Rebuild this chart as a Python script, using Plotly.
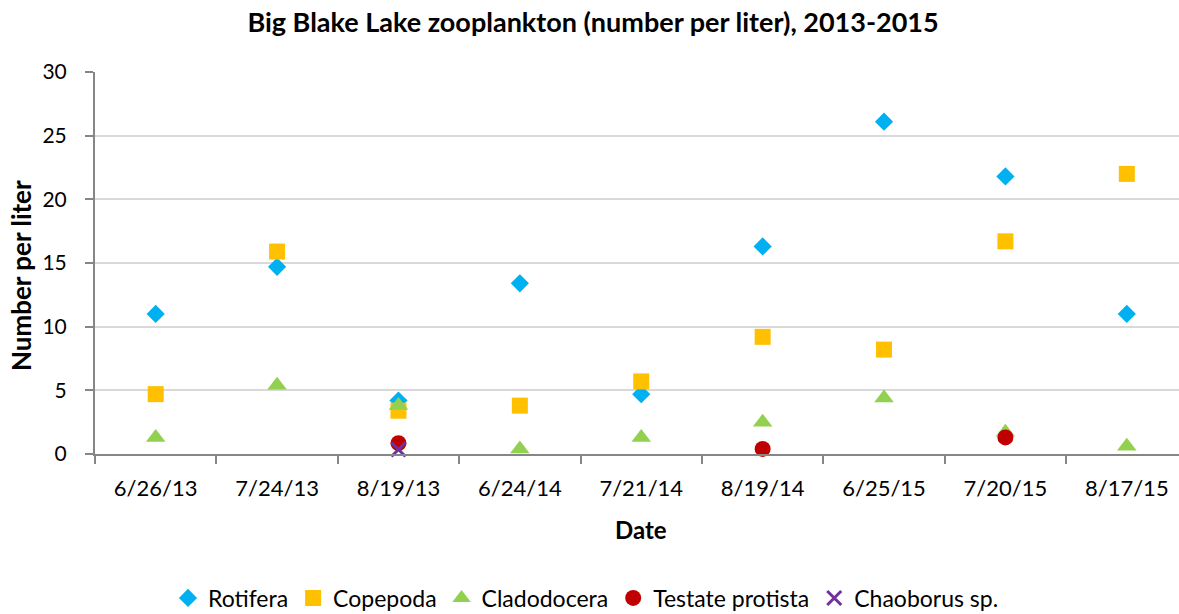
import plotly.graph_objects as go

# Sampling dates (categories on the x axis)
dates = ["6/26/13", "7/24/13", "8/19/13", "6/24/14", "7/21/14",
         "8/19/14", "6/25/15", "7/20/15", "8/17/15"]

# Zooplankton densities, number per liter (None = not recorded)
rotifera = [11.0, 14.7, 4.2, 13.4, 4.7, 16.3, 26.1, 21.8, 11.0]
copepoda = [4.7, 15.9, 3.4, 3.8, 5.7, 9.2, 8.2, 16.7, 22.0]
cladodocera = [1.3, 5.4, 3.8, 0.4, 1.3, 2.5, 4.4, 1.7, 0.6]
testate_protista = [None, None, 0.85, None, None, 0.4, None, 1.3, None]
chaoborus = [None, None, 0.35, None, None, None, None, None, None]

y_ticks = [0, 5, 10, 15, 20, 25, 30]

FONT = "Lato, 'Open Sans', sans-serif"
W, H = 1179, 614
M_L, M_R, M_T, M_B = 95, 0, 72, 160
PLOT_W = W - M_L - M_R
PLOT_H = H - M_T - M_B

series = [
    ("Rotifera", rotifera, "diamond", 14, "#00B0F0"),
    ("Copepoda", copepoda, "square", 16, "#FFC000"),
    ("Cladodocera", cladodocera, "triangle-up", 17, "#92D050"),
    ("Testate protista", testate_protista, "circle", 16, "#C00000"),
    ("Chaoborus sp.", chaoborus, "x-thin", 14, "#7030A0"),
]

fig = go.Figure()
for name, vals, sym, size, color in series:
    marker = dict(symbol=sym, size=size, color=color)
    if sym == "x-thin":
        marker["line"] = dict(color=color, width=3)
    fig.add_trace(go.Scatter(
        x=dates, y=vals, mode="markers", name=name,
        marker=marker, cliponaxis=False,
    ))


def px_x(px):
    return (px - M_L) / PLOT_W


def px_y(py):
    return (H - M_B - py) / PLOT_H


fig.update_layout(
    width=W, height=H,
    paper_bgcolor="white", plot_bgcolor="white",
    margin=dict(l=M_L, r=M_R, t=M_T, b=M_B, autoexpand=False),
    font=dict(family=FONT, size=22, color="black"),
    title=dict(
        text="<b>Big Blake Lake zooplankton (number per liter), 2013-2015</b>",
        x=593 / W, xref="container", xanchor="center",
        y=1 - 23 / H, yref="container", yanchor="middle",
        font=dict(family=FONT, size=27, color="black"),
    ),
    showlegend=True,
    legend=dict(
        orientation="h", x=px_x(586), xanchor="center",
        y=px_y(598), yanchor="middle",
        font=dict(family=FONT, size=23, color="black"),
        itemsizing="trace", itemwidth=30,
    ),
    annotations=[
        dict(text="<b>Number per liter</b>", xref="paper", yref="paper",
             x=px_x(21), y=px_y(276), textangle=-90, showarrow=False,
             xanchor="center", yanchor="middle",
             font=dict(family=FONT, size=26, color="black")),
        dict(text="<b>Date</b>", xref="paper", yref="paper",
             x=px_x(640.5), y=px_y(529), showarrow=False,
             xanchor="center", yanchor="middle",
             font=dict(family=FONT, size=24, color="black")),
    ],
)

fig.update_xaxes(
    type="category", categoryorder="array", categoryarray=dates,
    range=[-0.5, 8.43], automargin=False,
    showline=True, linecolor="#868686", linewidth=2,
    ticks="outside", tickson="boundaries", ticklen=8, tickcolor="#868686",
    tickwidth=2, ticklabelstandoff=14,
    showgrid=False, zeroline=False,
    tickfont=dict(family=FONT, size=22, color="black"),
)

fig.update_yaxes(
    range=[0, 30], tickvals=y_ticks, automargin=False,
    showline=True, linecolor="#868686", linewidth=2,
    ticks="outside", ticklen=8, tickcolor="#868686", tickwidth=2,
    ticklabelstandoff=14,
    showgrid=True, gridcolor="#D9D9D9", gridwidth=2,
    zeroline=False,
    tickfont=dict(family=FONT, size=21, color="black"),
)

fig.write_html("out.html")
